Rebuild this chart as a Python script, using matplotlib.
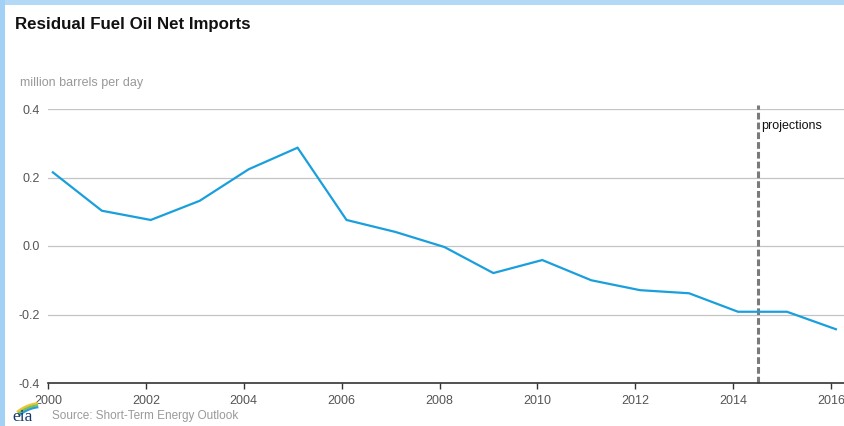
import matplotlib
matplotlib.use("Agg")
import matplotlib.pyplot as plt
import numpy as np
from matplotlib.patches import Rectangle
from matplotlib.lines import Line2D

plt.rcParams['font.family'] = ['Liberation Sans', 'DejaVu Sans']

# Annual residual fuel oil net imports, million barrels per day
years = [2000, 2001, 2002, 2003, 2004, 2005, 2006, 2007, 2008,
         2009, 2010, 2011, 2012, 2013, 2014, 2015, 2016]
net_imports = [0.215, 0.103, 0.076, 0.132, 0.224, 0.287, 0.076, 0.041, -0.003,
               -0.079, -0.041, -0.100, -0.129, -0.138, -0.192, -0.192, -0.243]
projection_start = 2014.5
y_ticks = [-0.4, -0.2, 0.0, 0.2, 0.4]
x_ticks = list(range(2000, 2017, 2))

W, H = 844, 426
fig = plt.figure(figsize=(W / 100, H / 100), dpi=100)
fig.patch.set_facecolor('white')

# light blue frame strips along the top and left edges
fig.patches.append(Rectangle((0, 1 - 5 / H), 1, 5 / H, transform=fig.transFigure,
                             facecolor='#b3d9f7', edgecolor='none', zorder=0))
fig.patches.append(Rectangle((0, 0), 5 / W, 1, transform=fig.transFigure,
                             facecolor='#a3d0f5', edgecolor='none', zorder=0))

ax = fig.add_axes([48 / W, (H - 383) / H, (W - 48) / W, (383 - 109) / H])
ax.set_facecolor('none')

# points sit slightly after the January tick of each year
xpos = [y + 0.1 for y in years]
ax.plot(xpos, net_imports, color='#1a9fdd', lw=1.6, zorder=3, solid_joinstyle='miter')

ax.set_xlim(2000, 2016 + (W - 831) / 48.94)
ax.set_ylim(-0.4, 0.4)
ax.set_yticks(y_ticks)
ax.set_yticklabels([f"{v:.1f}" for v in y_ticks])
ax.set_xticks(x_ticks)
ax.set_xticklabels([str(x) for x in x_ticks])

for v in y_ticks[1:]:
    ax.axhline(v, color='#c4c4c4', lw=0.9, zorder=1)

for s in ['top', 'right', 'left']:
    ax.spines[s].set_visible(False)
ax.spines['bottom'].set_color('#333333')
ax.spines['bottom'].set_linewidth(1.2)

ax.tick_params(axis='y', length=0, pad=6, labelsize=9, labelcolor='#555555')
ax.tick_params(axis='x', length=4, width=1, color='#333333', direction='out',
               pad=5, labelsize=9, labelcolor='#555555')

# projections marker
ax.axvline(projection_start, ymin=0, ymax=1.015, color='#7a7a7a', lw=2.2,
           ls=(0, (2.2, 1.0)), clip_on=False, zorder=2)
ax.text(projection_start + 0.08, 0.35, 'projections', fontsize=9, color='#111111',
        va='center', ha='left')

fig.text(15 / W, 1 - 25 / H, 'Residual Fuel Oil Net Imports', fontsize=12.2,
         fontweight='bold', color='#111111', va='center', ha='left')
fig.text(20 / W, 1 - 83 / H, 'million barrels per day', fontsize=9,
         color='#999999', va='center', ha='left')
fig.text(52 / W, 1 - 416 / H, 'Source: Short-Term Energy Outlook', fontsize=8.5,
         color='#9a9a9a', va='center', ha='left')

# small eia mark: serif letters under a three-colour swoosh
fig.text(12 / W, 1 - 421 / H, 'eia', fontsize=12.5, family='Liberation Serif',
         color='#16386b', va='baseline', ha='left')
t = np.radians(np.linspace(96, 130, 40))
for r, col in [(39, '#f2c230'), (37, '#7bc24a'), (35, '#2b9bd6')]:
    px = 42 + r * np.cos(t)
    py = 442 - r * np.sin(t)
    fig.lines.append(Line2D(px / W, 1 - py / H, transform=fig.transFigure,
                            color=col, lw=1.6, solid_capstyle='butt'))

fig.savefig('out.png', dpi=100, facecolor='white')
